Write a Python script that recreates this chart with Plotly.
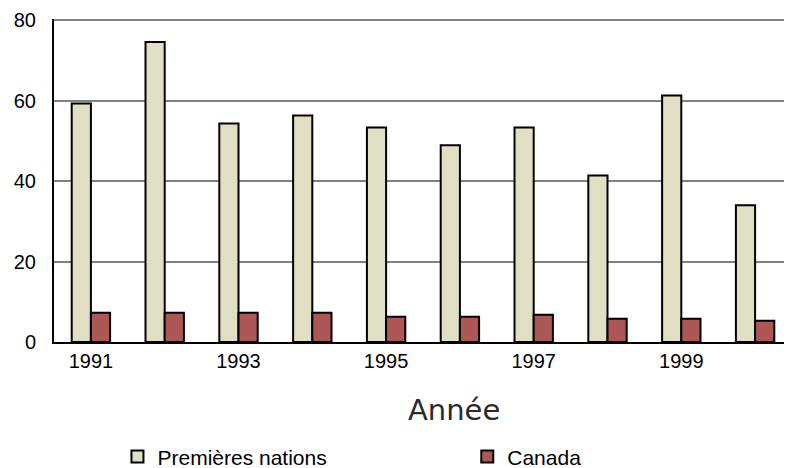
import plotly.graph_objects as go

# Données
annees = ["1991", "1992", "1993", "1994", "1995", "1996", "1997", "1998", "1999", "2000"]
premieres_nations = [59.3, 74.6, 54.3, 56.3, 53.3, 48.9, 53.3, 41.4, 61.3, 34.0]
canada = [7.3, 7.3, 7.3, 7.3, 6.3, 6.3, 6.8, 5.8, 5.8, 5.3]
ticks_x = ["1991", "1993", "1995", "1997", "1999"]
ticks_y = [0, 20, 40, 60, 80]

police = "Liberation Sans, Arial, sans-serif"

fig = go.Figure()

fig.add_trace(go.Bar(
    x=annees,
    y=premieres_nations,
    name="Premières nations",
    legend="legend",
    marker=dict(color="#E0DFC3", line=dict(color="black", width=2))))

fig.add_trace(go.Bar(
    x=annees,
    y=canada,
    name="Canada",
    legend="legend2",
    marker=dict(color="#AD5656", line=dict(color="black", width=2))))

# une légende par série pour garder le grand écart horizontal
style_legende = dict(
    orientation="h",
    yref="container",
    y=0.024,
    xanchor="left",
    yanchor="middle",
    font=dict(size=21),
    bgcolor="rgba(0,0,0,0)")

# la page ajoute 8 px de marge autour de la figure
fig.update_layout(
    width=784,
    height=460,
    margin=dict(l=46, r=0, t=11, b=126),
    paper_bgcolor="white",
    plot_bgcolor="white",
    barmode="group",
    bargap=0.48,
    bargroupgap=0,
    font=dict(family=police, size=19, color="black"),
    showlegend=True,
    legend=dict(style_legende, x=0.086),
    legend2=dict(style_legende, x=0.56),
    annotations=[dict(
        text="Année",
        x=0.542,
        y=-0.21,
        xref="paper",
        yref="paper",
        xanchor="center",
        yanchor="middle",
        showarrow=False,
        font=dict(family="DejaVu Sans, sans-serif", size=29, color="#2a2a2a"))])

fig.update_xaxes(
    type="category",
    tickvals=ticks_x,
    ticktext=ticks_x,
    tickfont=dict(size=20),
    showline=True,
    linecolor="black",
    linewidth=2,
    ticks="",
    showgrid=False)

fig.update_yaxes(
    range=[0, 80.3],
    tickvals=ticks_y,
    tickfont=dict(size=20),
    showline=True,
    linecolor="black",
    linewidth=2,
    ticks="",
    ticklabelstandoff=12,
    showgrid=True,
    gridcolor="#808080",
    gridwidth=2,
    zeroline=False)

fig.write_html("out.html")
